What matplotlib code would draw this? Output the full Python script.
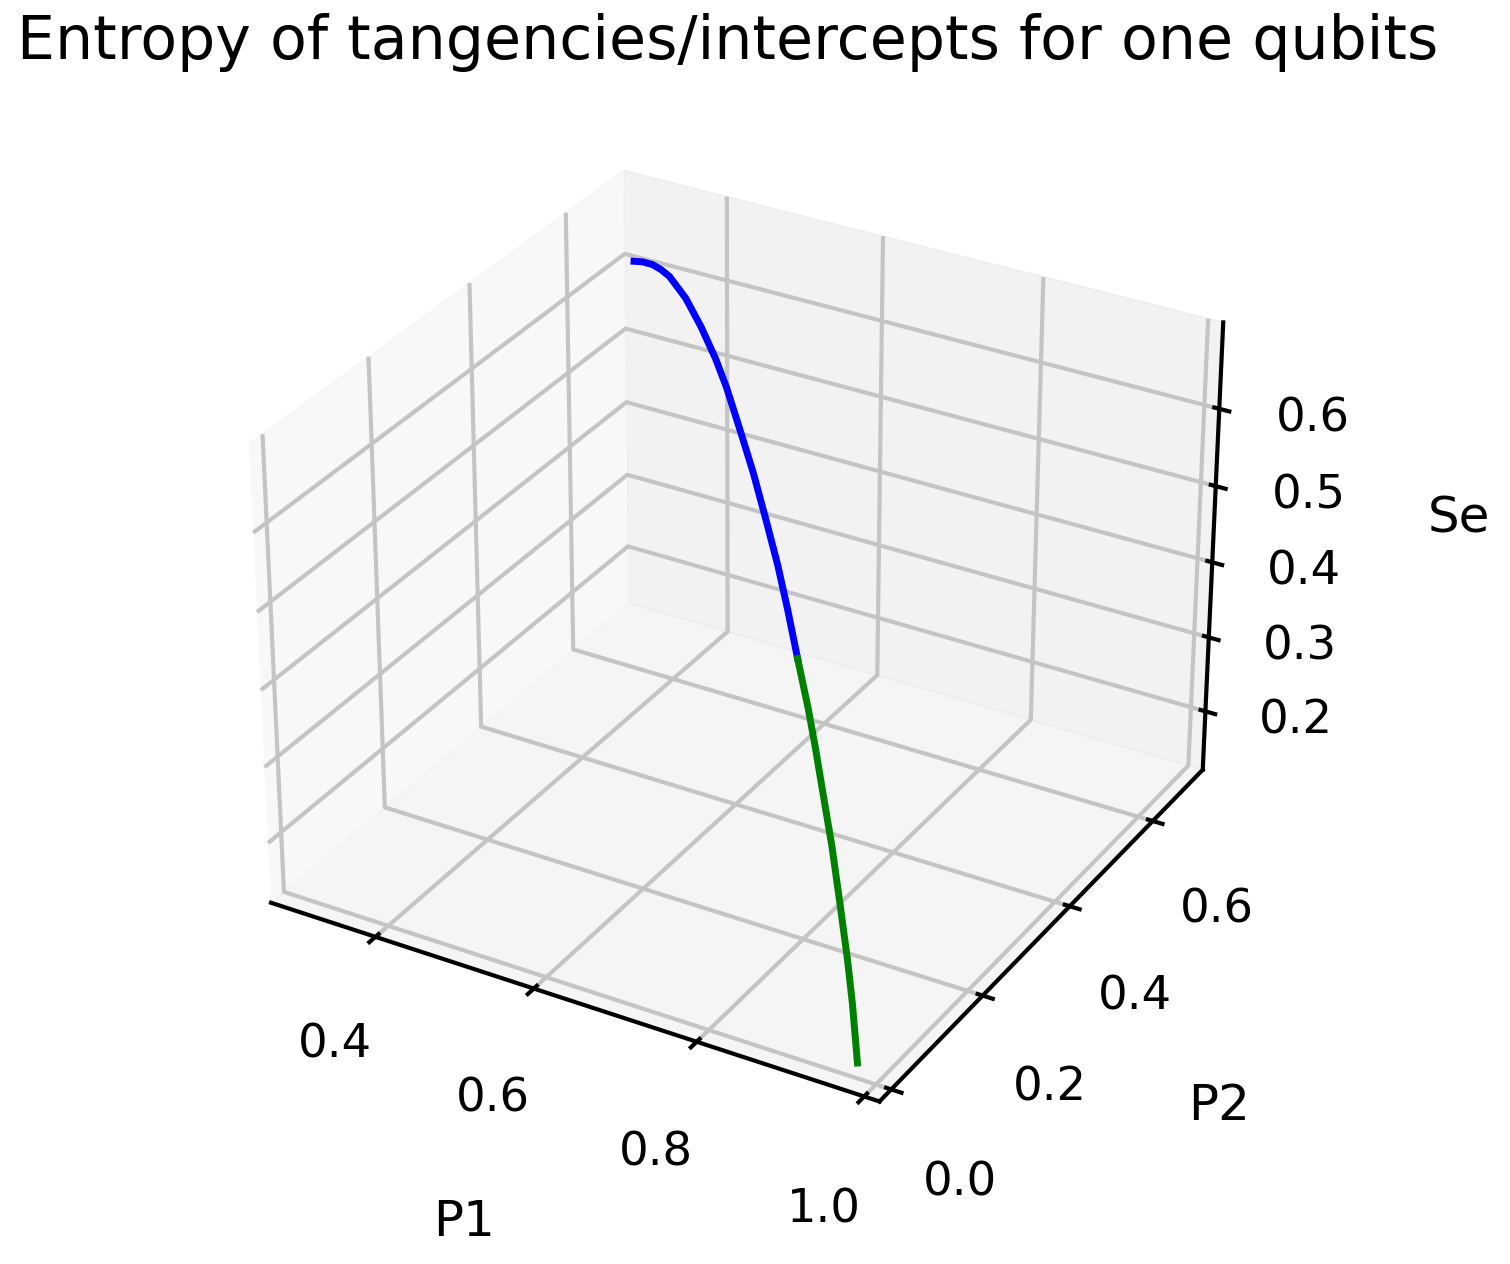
import matplotlib
matplotlib.use("Agg")
import matplotlib.pyplot as plt
from mpl_toolkits.mplot3d import Axes3D

# values
blue_p1 = [0.281, 0.31, 0.343, 0.37, 0.398, 0.449, 0.497, 0.541, 0.574, 0.618, 0.653, 0.688, 0.723, 0.752, 0.78]
blue_p2 = [0.719, 0.69, 0.657, 0.63, 0.602, 0.551, 0.503, 0.459, 0.426, 0.382, 0.347, 0.312, 0.277, 0.248, 0.22]
blue_se = [0.597, 0.617, 0.637, 0.65, 0.661, 0.67, 0.668, 0.66, 0.648, 0.622, 0.60, 0.571, 0.54, 0.506, 0.468]

green_p1 = [0.78, 0.81, 0.83, 0.852, 0.877, 0.90, 0.922, 0.936, 0.951]
green_p2 = [0.22, 0.19, 0.17, 0.148, 0.123, 0.10, 0.078, 0.064, 0.049]
green_se = [0.468, 0.43, 0.398, 0.358, 0.313, 0.26, 0.206, 0.163, 0.10]

x_ticks = [0.4, 0.6, 0.8, 1.0]
y_ticks = [0.0, 0.2, 0.4, 0.6]
z_ticks = [0.2, 0.3, 0.4, 0.5, 0.6]

fig = plt.figure(figsize=(15.1, 12.64), dpi=100)
ax = fig.add_axes([0.0555, 0.0745, 0.857, 0.857], projection="3d")

ax.plot(blue_p1, blue_p2, blue_se, color="blue", linewidth=5)
ax.plot(green_p1, green_p2, green_se, color="green", linewidth=5)

ax.set_xlim(0.265, 1.018)
ax.set_ylim(-0.025, 0.725)
ax.set_zlim(0.12, 0.71)
ax.set_xticks(x_ticks)
ax.set_yticks(y_ticks)
ax.set_zticks(z_ticks)

ax.tick_params(labelsize=33.5)
ax.tick_params(axis="x", pad=37)
ax.tick_params(axis="y", pad=36)
ax.tick_params(axis="z", pad=33)
ax.set_xlabel("P1", fontsize=36, labelpad=92)
ax.set_ylabel("P2", fontsize=36, labelpad=93)
ax.set_zlabel("Se", fontsize=36, labelpad=89)

for axis in (ax.xaxis, ax.yaxis, ax.zaxis):
    axis.line.set_linewidth(3)
    axis._axinfo["grid"]["linewidth"] = 3
    axis._axinfo["grid"]["color"] = "#c4c4c4"
    axis._axinfo["tick"]["linewidth"] = {True: 3, False: 2}

fig.text(0.011, 0.966, "Entropy of tangencies/intercepts for one qubits", fontsize=43.3, va="center")

plt.savefig("out.png", dpi=100)
